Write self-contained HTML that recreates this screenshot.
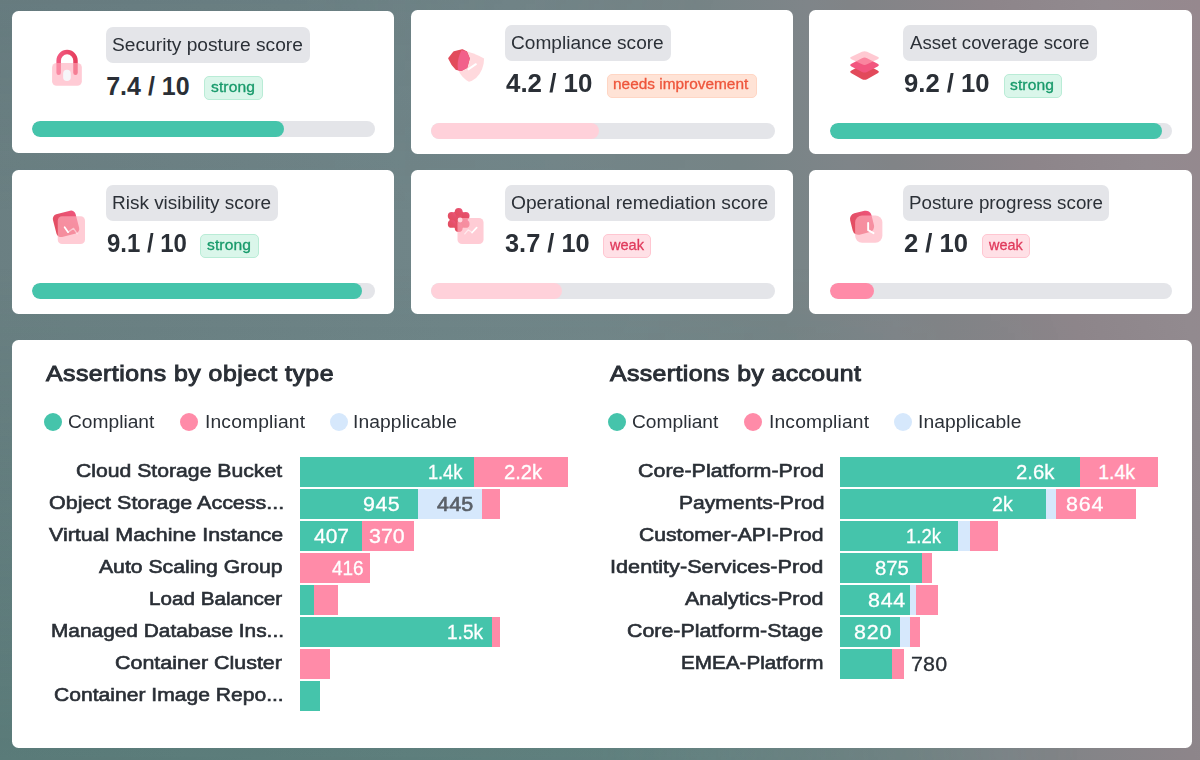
<!DOCTYPE html>
<html>
<head>
<meta charset="utf-8">
<title>Security posture dashboard</title>
<style>
*{box-sizing:border-box;margin:0;padding:0}
html,body{width:1200px;height:760px;overflow:hidden}
body{font-family:"Liberation Sans",sans-serif;color:#2a2f36;position:relative;background:#6b8083}
.bg{position:absolute;left:0;top:0;width:1200px;height:760px}
.card,.panel{position:absolute;background:#fff;border-radius:6.5px}
.pill{position:absolute;border-radius:7px;background:#e4e5e9}
.badge{position:absolute;border-radius:5px;border:1px solid}
.bs{background:#daf6ea;border-color:#b9ecd6}
.bn{background:#ffe3d6;border-color:#ffd6c4}
.bw{background:#ffe0e6;border-color:#ffc6d1}
.track{position:absolute;border-radius:9px;background:#e4e5e9;overflow:hidden}
.fill{height:100%;border-radius:9px}
.teal{background:#45c4ab}.lpink{background:#ffd1da}.pink{background:#ff8ba8}.blue{background:#d6e8fc}
.dot{position:absolute;width:18px;height:18px;border-radius:50%}
.seg{position:absolute;height:29.6px}
.t{position:absolute;white-space:nowrap;transform-origin:0 0}
.ico{position:absolute;width:60px;height:60px}
</style>
</head>
<body>
<div class="bg" style="background:linear-gradient(75deg,#697e81 0%,#6a7f82 8%,#708588 40%,#738689 51%,#768486 64%,#7f8589 72%,#818487 75%,#8d858a 85%,#928a8f 93%,#96888e 100%)"></div>
<div class="bg" style="background:linear-gradient(180deg,rgba(56,116,103,0) 35%,rgba(56,116,103,.3) 100%);-webkit-mask-image:linear-gradient(90deg,#000 0%,#000 50%,rgba(0,0,0,0) 90%);mask-image:linear-gradient(90deg,#000 0%,#000 50%,rgba(0,0,0,0) 90%)"></div>
<div class="bg" style="background:linear-gradient(180deg,rgba(60,80,90,.10) 0%,rgba(60,80,90,0) 28%);-webkit-mask-image:linear-gradient(90deg,#000 0%,#000 25%,rgba(0,0,0,0) 60%);mask-image:linear-gradient(90deg,#000 0%,#000 25%,rgba(0,0,0,0) 60%)"></div>

<div class="card" style="left:12.2px;top:10.8px;width:382.2px;height:142.4px"></div>
<div class="card" style="left:410.7px;top:10.3px;width:382.6px;height:143.5px"></div>
<div class="card" style="left:809.3px;top:10.2px;width:382.6px;height:143.6px"></div>
<div class="card" style="left:12.2px;top:169.9px;width:382.2px;height:143.9px"></div>
<div class="card" style="left:410.7px;top:169.9px;width:382.6px;height:143.9px"></div>
<div class="card" style="left:809.3px;top:169.9px;width:382.6px;height:143.9px"></div>
<div class="pill" style="left:106px;top:27px;width:204.0px;height:36.3px"></div>
<div class="pill" style="left:505px;top:25.1px;width:166.0px;height:35.6px"></div>
<div class="pill" style="left:903.3px;top:25.1px;width:194.2px;height:35.6px"></div>
<div class="pill" style="left:106px;top:185.1px;width:171.8px;height:35.6px"></div>
<div class="pill" style="left:505px;top:185.1px;width:269.7px;height:35.6px"></div>
<div class="pill" style="left:903.3px;top:185.1px;width:206.1px;height:35.6px"></div>
<div class="badge bs" style="left:204.1px;top:75.9px;width:58.5px;height:24.4px"></div>
<div class="badge bn" style="left:606.7px;top:74.2px;width:150.8px;height:23.8px"></div>
<div class="badge bs" style="left:1003.6px;top:73.9px;width:58.3px;height:24.4px"></div>
<div class="badge bs" style="left:199.9px;top:233.9px;width:58.7px;height:24.4px"></div>
<div class="badge bw" style="left:603px;top:233.9px;width:48.3px;height:24.4px"></div>
<div class="badge bw" style="left:981.6px;top:233.9px;width:48.6px;height:24.4px"></div>
<div class="track" style="left:31.7px;top:120.8px;width:343.0px;height:16.2px"><div class="fill teal" style="width:252.1px"></div></div>
<div class="track" style="left:430.8px;top:122.8px;width:343.9px;height:16.0px"><div class="fill lpink" style="width:168.0px"></div></div>
<div class="track" style="left:830px;top:122.8px;width:341.7px;height:16.0px"><div class="fill teal" style="width:332.0px"></div></div>
<div class="track" style="left:31.7px;top:282.8px;width:343.0px;height:16.0px"><div class="fill teal" style="width:330.3px"></div></div>
<div class="track" style="left:430.8px;top:282.8px;width:343.9px;height:16.0px"><div class="fill lpink" style="width:131.5px"></div></div>
<div class="track" style="left:830px;top:282.8px;width:341.7px;height:16.0px"><div class="fill pink" style="width:43.7px"></div></div>
<svg width="0" height="0" style="position:absolute"><defs>
<linearGradient id="g1" x1="0" y1="0" x2="1" y2="0"><stop offset="0" stop-color="#f2587f"/><stop offset="1" stop-color="#e63f5e"/></linearGradient>
<linearGradient id="g2" x1="0" y1="0.6" x2="1" y2="0.2"><stop offset="0" stop-color="#e24c5c"/><stop offset=".45" stop-color="#e24c5c"/><stop offset=".6" stop-color="#f0577f"/><stop offset="1" stop-color="#f2628a"/></linearGradient>
<linearGradient id="g3" x1="0" y1="1" x2="1" y2="0"><stop offset="0" stop-color="#e24c5c"/><stop offset=".6" stop-color="#e5506a"/><stop offset="1" stop-color="#f0557f"/></linearGradient>
</defs></svg>
<!-- lock -->
<svg class="ico" style="left:40px;top:40px" viewBox="0 0 760 760">
<path d="M236.5 415V260A106.5 106.5 0 0 1 449.5 260V415" fill="none" stroke="url(#g1)" stroke-width="57" stroke-linecap="round"/>
<rect x="153" y="290" width="377" height="290" rx="58" fill="#ffa8b9" fill-opacity=".6"/>
<rect x="293" y="378" width="97" height="142" rx="48" fill="#f6f6f9"/>
</svg>
<!-- compliance: shield + hexagon -->
<svg class="ico" style="left:435px;top:35px" viewBox="0 0 760 760">
<defs><clipPath id="hx"><path d="M168 295L236 207L345 180L402 212L441 297L408 418L335 455L266 441L208 378Z"/></clipPath></defs>
<path d="M335 192Q480 215 622 298Q620 450 520 545Q470 585 430 592Q340 545 292 440Q272 320 335 192Z" fill="#ffd9dd"/>
<path d="M180 295L243 218L345 193L395 218L428 297L397 408L333 442L272 430L220 372Z" fill="#e24c5c" stroke="#e24c5c" stroke-width="26" stroke-linejoin="round"/>
<g clip-path="url(#hx)"><path d="M335 192Q480 215 622 298Q620 450 520 545Q470 585 430 592Q340 545 292 440Q272 320 335 192Z" fill="#f2608a"/></g>
<path d="M425 432L518 370" fill="none" stroke="#fff" stroke-width="26" stroke-linecap="round"/>
</svg>
<!-- layers -->
<svg class="ico" style="left:835px;top:35px" viewBox="0 0 760 760">
<path d="M342 377Q374 360 406 377L540 451Q572 468 540 485L406 559Q374 576 342 559L208 485Q176 468 208 451Z" fill="#e24a5b"/>
<path d="M342 294Q374 277 406 294L540 364Q572 381 540 398L406 468Q374 485 342 468L208 398Q176 381 208 364Z" fill="#f2567f"/>
<path d="M342 213Q374 198 406 213L540 277Q572 292 540 307L406 371Q374 386 342 371L208 307Q176 292 208 277Z" fill="#ffa5b4" fill-opacity=".6"/>
</svg>
<!-- risk visibility -->
<svg class="ico" style="left:40px;top:197px" viewBox="0 0 760 760">
<rect x="182" y="192" width="296" height="296" rx="58" transform="rotate(-14.5 330 340)" fill="url(#g3)"/>
<rect x="225" y="245" width="345" height="350" rx="55" fill="#ffb0be" fill-opacity=".65"/>
<path d="M312 382L356 445" fill="none" stroke="#fff" stroke-width="22" stroke-linecap="round"/>
<path d="M356 445L425 397L470 465" fill="none" stroke="#fff" stroke-opacity=".5" stroke-width="16" stroke-linecap="round" stroke-linejoin="round"/>
</svg>
<!-- operational remediation: gear + card -->
<svg class="ico" style="left:435px;top:197px" viewBox="0 0 760 760">
<g fill="url(#g3)"><circle cx="300" cy="290" r="116"/><circle cx="300" cy="188" r="50"/><circle cx="388" cy="239" r="50"/><circle cx="388" cy="341" r="50"/><circle cx="300" cy="392" r="50"/><circle cx="212" cy="341" r="50"/><circle cx="212" cy="239" r="50"/></g>
<rect x="285" y="265" width="330" height="330" rx="58" fill="#ffb0be" fill-opacity=".65"/>
<circle cx="318" cy="292" r="31" fill="#ffd6dd"/>
<path d="M377 468L420 416L470 450" fill="none" stroke="#fff" stroke-opacity=".6" stroke-width="16" stroke-linecap="round" stroke-linejoin="round"/>
<path d="M470 450L528 388" fill="none" stroke="#fff" stroke-width="22" stroke-linecap="round"/>
</svg>
<!-- posture progress: clock -->
<svg class="ico" style="left:835px;top:197px" viewBox="0 0 760 760">
<rect x="204" y="187" width="278" height="278" rx="72" transform="rotate(-14 343 326)" fill="url(#g3)"/>
<rect x="255" y="235" width="345" height="345" rx="88" fill="#ffb0be" fill-opacity=".65"/>
<path d="M420 328V420L488 458" fill="none" stroke="#fff" stroke-width="24" stroke-linecap="round" stroke-linejoin="round"/>
</svg>

<div class="panel" style="left:12px;top:339.8px;width:1180px;height:408.2px"></div>
<div class="dot teal" style="left:43.90px;top:412.9px"></div>
<div class="dot pink" style="left:179.75px;top:412.9px"></div>
<div class="dot blue" style="left:330.00px;top:412.9px"></div>
<div class="dot teal" style="left:608.00px;top:412.9px"></div>
<div class="dot pink" style="left:744.00px;top:412.9px"></div>
<div class="dot blue" style="left:894.10px;top:412.9px"></div>
<div class="seg teal" style="left:300px;top:457.4px;width:174px"></div>
<div class="seg pink" style="left:474px;top:457.4px;width:94px"></div>
<div class="seg teal" style="left:300px;top:489.4px;width:118px"></div>
<div class="seg blue" style="left:418px;top:489.4px;width:64px"></div>
<div class="seg pink" style="left:482px;top:489.4px;width:18px"></div>
<div class="seg teal" style="left:300px;top:521.4px;width:62px"></div>
<div class="seg pink" style="left:362px;top:521.4px;width:52px"></div>
<div class="seg pink" style="left:300px;top:553.4px;width:70px"></div>
<div class="seg teal" style="left:300px;top:585.4px;width:14px"></div>
<div class="seg pink" style="left:314px;top:585.4px;width:24px"></div>
<div class="seg teal" style="left:300px;top:617.4px;width:192px"></div>
<div class="seg pink" style="left:492px;top:617.4px;width:8px"></div>
<div class="seg pink" style="left:300px;top:649.4px;width:30px"></div>
<div class="seg teal" style="left:300px;top:681.4px;width:20px"></div>
<div class="seg teal" style="left:840px;top:457.4px;width:240px"></div>
<div class="seg pink" style="left:1080px;top:457.4px;width:78px"></div>
<div class="seg teal" style="left:840px;top:489.4px;width:206px"></div>
<div class="seg blue" style="left:1046px;top:489.4px;width:10px"></div>
<div class="seg pink" style="left:1056px;top:489.4px;width:80px"></div>
<div class="seg teal" style="left:840px;top:521.4px;width:118px"></div>
<div class="seg blue" style="left:958px;top:521.4px;width:12px"></div>
<div class="seg pink" style="left:970px;top:521.4px;width:28px"></div>
<div class="seg teal" style="left:840px;top:553.4px;width:82px"></div>
<div class="seg pink" style="left:922px;top:553.4px;width:10px"></div>
<div class="seg teal" style="left:840px;top:585.4px;width:70px"></div>
<div class="seg blue" style="left:910px;top:585.4px;width:6px"></div>
<div class="seg pink" style="left:916px;top:585.4px;width:22px"></div>
<div class="seg teal" style="left:840px;top:617.4px;width:60px"></div>
<div class="seg blue" style="left:900px;top:617.4px;width:10px"></div>
<div class="seg pink" style="left:910px;top:617.4px;width:10px"></div>
<div class="seg teal" style="left:840px;top:649.4px;width:52px"></div>
<div class="seg pink" style="left:892px;top:649.4px;width:12px"></div>
<div class="t" style="left:111.84px;top:35.2px;font-size:18px;line-height:21.60px;color:#2b3037;transform:scaleX(1.0662);">Security posture score</div>
<div class="t" style="left:511.02px;top:32.8px;font-size:18px;line-height:21.60px;color:#2b3037;transform:scaleX(1.0601);">Compliance score</div>
<div class="t" style="left:910.37px;top:32.8px;font-size:18px;line-height:21.60px;color:#2b3037;transform:scaleX(1.0363);">Asset coverage score</div>
<div class="t" style="left:111.51px;top:192.8px;font-size:18px;line-height:21.60px;color:#2b3037;transform:scaleX(1.0534);">Risk visibility score</div>
<div class="t" style="left:511.05px;top:192.8px;font-size:18px;line-height:21.60px;color:#2b3037;transform:scaleX(1.067);">Operational remediation score</div>
<div class="t" style="left:909.13px;top:192.8px;font-size:18px;line-height:21.60px;color:#2b3037;transform:scaleX(1.0426);">Posture progress score</div>
<div class="t" style="left:106.22px;top:71.2px;font-size:25px;line-height:30.00px;color:#2a2f36;font-weight:bold;">7.4 / 10</div>
<div class="t" style="left:505.67px;top:68.4px;font-size:25px;line-height:30.00px;color:#2a2f36;font-weight:bold;transform:scaleX(1.0362);">4.2 / 10</div>
<div class="t" style="left:904.09px;top:68.4px;font-size:25px;line-height:30.00px;color:#2a2f36;font-weight:bold;transform:scaleX(1.0263);">9.2 / 10</div>
<div class="t" style="left:106.56px;top:228.4px;font-size:25px;line-height:30.00px;color:#2a2f36;font-weight:bold;transform:scaleX(0.9587);">9.1 / 10</div>
<div class="t" style="left:505.06px;top:228.4px;font-size:25px;line-height:30.00px;color:#2a2f36;font-weight:bold;transform:scaleX(1.0145);">3.7 / 10</div>
<div class="t" style="left:903.52px;top:228.4px;font-size:25px;line-height:30.00px;color:#2a2f36;font-weight:bold;transform:scaleX(1.0246);">2 / 10</div>
<div class="t" style="left:210.65px;top:78.5px;font-size:14.2px;line-height:17.04px;color:#189a6b;letter-spacing:0.1px;transform:scaleX(1.1);-webkit-text-stroke:0.3px #189a6b;">strong</div>
<div class="t" style="left:613.22px;top:76.2px;font-size:14.2px;line-height:17.04px;color:#ee553b;transform:scaleX(1.0853);-webkit-text-stroke:0.3px #ee553b;">needs improvement</div>
<div class="t" style="left:1009.75px;top:76.7px;font-size:14.2px;line-height:17.04px;color:#189a6b;letter-spacing:0.1px;transform:scaleX(1.1);-webkit-text-stroke:0.3px #189a6b;">strong</div>
<div class="t" style="left:206.85px;top:236.7px;font-size:14.2px;line-height:17.04px;color:#189a6b;letter-spacing:0.1px;transform:scaleX(1.1);-webkit-text-stroke:0.3px #189a6b;">strong</div>
<div class="t" style="left:610.05px;top:236.7px;font-size:14.2px;line-height:17.04px;color:#e03a5c;transform:scaleX(1.0244);-webkit-text-stroke:0.3px #e03a5c;">weak</div>
<div class="t" style="left:988.85px;top:236.7px;font-size:14.2px;line-height:17.04px;color:#e03a5c;transform:scaleX(1.0152);-webkit-text-stroke:0.3px #e03a5c;">weak</div>
<div class="t" style="left:45.56px;top:360.75px;font-size:22px;line-height:26.40px;color:#2a2f36;letter-spacing:0.41px;transform:scaleX(1.13);-webkit-text-stroke:0.95px #2a2f36;">Assertions by object type</div>
<div class="t" style="left:609.56px;top:360.75px;font-size:22px;line-height:26.40px;color:#2a2f36;letter-spacing:0.34px;transform:scaleX(1.13);-webkit-text-stroke:0.95px #2a2f36;">Assertions by account</div>
<div class="t" style="left:68.16px;top:411.5px;font-size:17.5px;line-height:21.00px;color:#2b3037;transform:scaleX(1.096);">Compliant</div>
<div class="t" style="left:204.62px;top:411.5px;font-size:17.5px;line-height:21.00px;color:#2b3037;letter-spacing:0.14px;transform:scaleX(1.1);">Incompliant</div>
<div class="t" style="left:353.37px;top:411.5px;font-size:17.5px;line-height:21.00px;color:#2b3037;letter-spacing:0.09px;transform:scaleX(1.1);">Inapplicable</div>
<div class="t" style="left:632.41px;top:411.5px;font-size:17.5px;line-height:21.00px;color:#2b3037;transform:scaleX(1.096);">Compliant</div>
<div class="t" style="left:768.87px;top:411.5px;font-size:17.5px;line-height:21.00px;color:#2b3037;letter-spacing:0.14px;transform:scaleX(1.1);">Incompliant</div>
<div class="t" style="left:917.57px;top:411.5px;font-size:17.5px;line-height:21.00px;color:#2b3037;letter-spacing:0.05px;transform:scaleX(1.1);">Inapplicable</div>
<div class="t" style="left:76.22px;top:458.6px;font-size:19.2px;line-height:23.04px;color:#2a2f36;transform:scaleX(1.104);-webkit-text-stroke:0.62px #2a2f36;">Cloud Storage Bucket</div>
<div class="t" style="left:48.72px;top:490.6px;font-size:19.2px;line-height:23.04px;color:#2a2f36;transform:scaleX(1.1195);-webkit-text-stroke:0.62px #2a2f36;">Object Storage Access...</div>
<div class="t" style="left:49.16px;top:522.6px;font-size:19.2px;line-height:23.04px;color:#2a2f36;transform:scaleX(1.1165);-webkit-text-stroke:0.62px #2a2f36;">Virtual Machine Instance</div>
<div class="t" style="left:99.38px;top:554.6px;font-size:19.2px;line-height:23.04px;color:#2a2f36;transform:scaleX(1.1036);-webkit-text-stroke:0.62px #2a2f36;">Auto Scaling Group</div>
<div class="t" style="left:149.3px;top:586.6px;font-size:19.2px;line-height:23.04px;color:#2a2f36;transform:scaleX(1.0758);-webkit-text-stroke:0.62px #2a2f36;">Load Balancer</div>
<div class="t" style="left:51.09px;top:618.6px;font-size:19.2px;line-height:23.04px;color:#2a2f36;transform:scaleX(1.0867);-webkit-text-stroke:0.62px #2a2f36;">Managed Database Ins...</div>
<div class="t" style="left:115.21px;top:650.6px;font-size:19.2px;line-height:23.04px;color:#2a2f36;transform:scaleX(1.1182);-webkit-text-stroke:0.62px #2a2f36;">Container Cluster</div>
<div class="t" style="left:54.13px;top:682.6px;font-size:19.2px;line-height:23.04px;color:#2a2f36;transform:scaleX(1.0989);-webkit-text-stroke:0.62px #2a2f36;">Container Image Repo...</div>
<div class="t" style="left:637.71px;top:458.6px;font-size:19.2px;line-height:23.04px;color:#2a2f36;transform:scaleX(1.1172);-webkit-text-stroke:0.62px #2a2f36;">Core-Platform-Prod</div>
<div class="t" style="left:678.67px;top:490.6px;font-size:19.2px;line-height:23.04px;color:#2a2f36;transform:scaleX(1.0999);-webkit-text-stroke:0.62px #2a2f36;">Payments-Prod</div>
<div class="t" style="left:639.12px;top:522.6px;font-size:19.2px;line-height:23.04px;color:#2a2f36;transform:scaleX(1.102);-webkit-text-stroke:0.62px #2a2f36;">Customer-API-Prod</div>
<div class="t" style="left:610.45px;top:554.6px;font-size:19.2px;line-height:23.04px;color:#2a2f36;transform:scaleX(1.13);-webkit-text-stroke:0.62px #2a2f36;">Identity-Services-Prod</div>
<div class="t" style="left:685.38px;top:586.6px;font-size:19.2px;line-height:23.04px;color:#2a2f36;transform:scaleX(1.1185);-webkit-text-stroke:0.62px #2a2f36;">Analytics-Prod</div>
<div class="t" style="left:627.21px;top:618.6px;font-size:19.2px;line-height:23.04px;color:#2a2f36;transform:scaleX(1.1141);-webkit-text-stroke:0.62px #2a2f36;">Core-Platform-Stage</div>
<div class="t" style="left:681.2px;top:650.6px;font-size:19.2px;line-height:23.04px;color:#2a2f36;transform:scaleX(1.0767);-webkit-text-stroke:0.62px #2a2f36;">EMEA-Platform</div>
<div class="t" style="left:427.59px;top:461.4px;font-size:19.5px;line-height:23.40px;color:#fff;letter-spacing:-0.09px;transform:scaleX(0.94);-webkit-text-stroke:0.3px #fff;">1.4k</div>
<div class="t" style="left:504.49px;top:461.4px;font-size:19.5px;line-height:23.40px;color:#fff;transform:scaleX(1.0338);-webkit-text-stroke:0.3px #fff;">2.2k</div>
<div class="t" style="left:362.66px;top:493.4px;font-size:19.5px;line-height:23.40px;color:#fff;letter-spacing:0.43px;transform:scaleX(1.1);-webkit-text-stroke:0.3px #fff;">945</div>
<div class="t" style="left:437.34px;top:493.4px;font-size:19.5px;line-height:23.40px;color:#5a6068;letter-spacing:0.18px;transform:scaleX(1.1);-webkit-text-stroke:0.65px #5a6068;">445</div>
<div class="t" style="left:314.45px;top:525.4px;font-size:19.5px;line-height:23.40px;color:#fff;transform:scaleX(1.0759);-webkit-text-stroke:0.3px #fff;">407</div>
<div class="t" style="left:369.41px;top:525.4px;font-size:19.5px;line-height:23.40px;color:#fff;transform:scaleX(1.0978);-webkit-text-stroke:0.3px #fff;">370</div>
<div class="t" style="left:331.74px;top:557.4px;font-size:19.5px;line-height:23.40px;color:#fff;transform:scaleX(0.9717);-webkit-text-stroke:0.3px #fff;">416</div>
<div class="t" style="left:446.78px;top:621.4px;font-size:19.5px;line-height:23.40px;color:#fff;transform:scaleX(0.9782);-webkit-text-stroke:0.3px #fff;">1.5k</div>
<div class="t" style="left:1016.49px;top:461.4px;font-size:19.5px;line-height:23.40px;color:#fff;transform:scaleX(1.0394);-webkit-text-stroke:0.3px #fff;">2.6k</div>
<div class="t" style="left:1098.16px;top:461.4px;font-size:19.5px;line-height:23.40px;color:#fff;-webkit-text-stroke:0.3px #fff;">1.4k</div>
<div class="t" style="left:992.02px;top:493.4px;font-size:19.5px;line-height:23.40px;color:#fff;transform:scaleX(1.0052);-webkit-text-stroke:0.3px #fff;">2k</div>
<div class="t" style="left:1066.23px;top:493.4px;font-size:19.5px;line-height:23.40px;color:#fff;letter-spacing:0.79px;transform:scaleX(1.1);-webkit-text-stroke:0.3px #fff;">864</div>
<div class="t" style="left:905.72px;top:525.4px;font-size:19.5px;line-height:23.40px;color:#fff;transform:scaleX(0.9484);-webkit-text-stroke:0.3px #fff;">1.2k</div>
<div class="t" style="left:875.29px;top:557.4px;font-size:19.5px;line-height:23.40px;color:#fff;transform:scaleX(1.04);-webkit-text-stroke:0.3px #fff;">875</div>
<div class="t" style="left:867.93px;top:589.4px;font-size:19.5px;line-height:23.40px;color:#fff;letter-spacing:0.67px;transform:scaleX(1.1);-webkit-text-stroke:0.3px #fff;">844</div>
<div class="t" style="left:854.23px;top:621.4px;font-size:19.5px;line-height:23.40px;color:#fff;letter-spacing:0.77px;transform:scaleX(1.1);-webkit-text-stroke:0.3px #fff;">820</div>
<div class="t" style="left:911.11px;top:653.4px;font-size:19.5px;line-height:23.40px;color:#2a2f36;letter-spacing:0.17px;transform:scaleX(1.1);-webkit-text-stroke:0.3px #2a2f36;">780</div>
</body>
</html>
